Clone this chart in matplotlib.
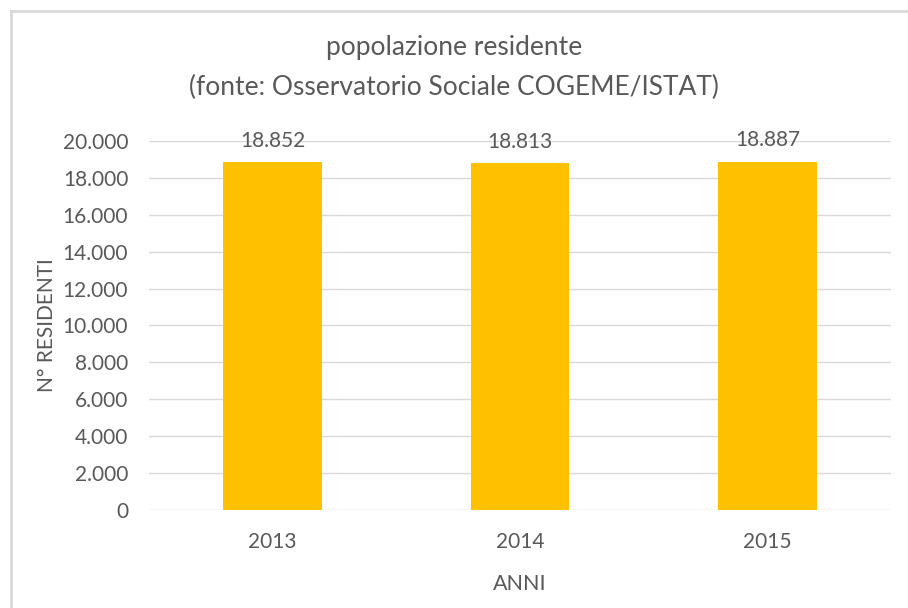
import matplotlib
matplotlib.use("Agg")
import matplotlib.pyplot as plt
from matplotlib.lines import Line2D

years = ["2013", "2014", "2015"]
residents = [18852, 18813, 18887]
yticks = list(range(0, 20001, 2000))

def fmt(v):
    return f"{v:,}".replace(",", ".")

plt.rcParams['font.family'] = ['Lato', 'DejaVu Sans']
txt = "#595959"

fig = plt.figure(figsize=(9.08, 6.08), dpi=100)
ax = fig.add_axes([149/908, 1-510/608, (891-149)/908, (510-141)/608])

x = range(len(years))
bars = ax.bar(x, residents, width=0.4, color="#FFC000", zorder=3)
for xi, v in zip(x, residents):
    ax.annotate(fmt(v), (xi, v), xytext=(0, 8), textcoords="offset points",
                ha="center", va="bottom", fontsize=15, color=txt)

ax.set_xlim(-0.5, 2.5)
ax.set_ylim(0, 20000)
ax.set_yticks(yticks)
ax.set_yticklabels([fmt(t) for t in yticks], fontsize=15, color=txt)
ax.set_xticks(list(x))
ax.set_xticklabels(years, fontsize=15, color=txt)
ax.tick_params(axis="both", length=0)
ax.tick_params(axis="y", pad=15)
ax.tick_params(axis="x", pad=16)
ax.grid(axis="y", color="#D9D9D9", linewidth=1, zorder=0)
for s in ax.spines.values():
    s.set_visible(False)

ax.set_xlabel("ANNI", fontsize=15.5, color=txt, labelpad=16)
ax.set_ylabel("N° RESIDENTI", fontsize=15, color=txt, labelpad=4)

fig.text(0.5, 1-48/608, "popolazione residente", ha="center", va="center", fontsize=19, color=txt)
fig.text(0.5, 1-87/608, "(fonte: Osservatorio Sociale COGEME/ISTAT)", ha="center", va="center", fontsize=19, color=txt)

fig.add_artist(Line2D([11/908, 11/908], [0, 1-11/608], transform=fig.transFigure, color="#D9D9D9", linewidth=2))
fig.add_artist(Line2D([11/908, 1], [1-11/608, 1-11/608], transform=fig.transFigure, color="#D9D9D9", linewidth=2))

fig.savefig("out.png", dpi=100)
